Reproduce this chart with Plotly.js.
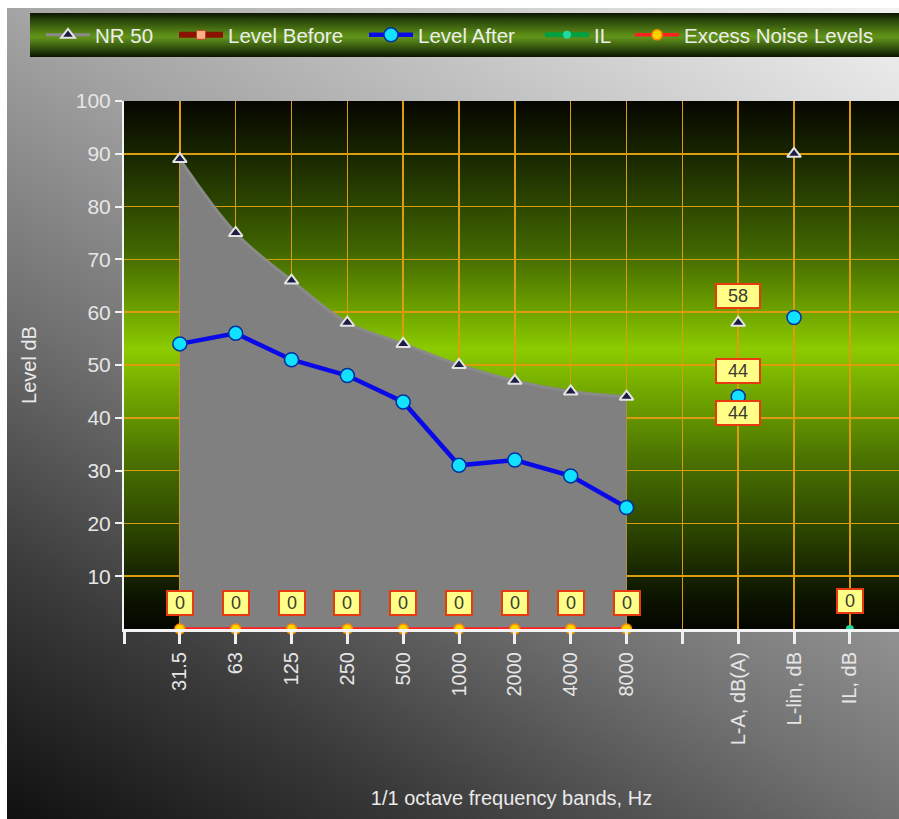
<!DOCTYPE html>
<html>
<head>
<meta charset="utf-8">
<script src="https://cdn.plot.ly/plotly-3.0.1.min.js"></script>
<style>
  html, body { margin:0; padding:0; background:#ffffff; overflow:hidden; }
  #wrap { position:relative; width:899px; height:819px; }
  #outer { position:absolute; left:7px; top:8px; width:892px; height:811px;
    background: linear-gradient(210deg, #f2f2f2 0%, #a4a4a4 39%, #717171 61%, #585858 70%, #3a3a3a 81%, #101010 100%); }
  #legbar { position:absolute; left:30px; top:13px; width:869px; height:44px;
    background: linear-gradient(to bottom, #0a1400 0%, #26400a 14%, #5a8a16 48%, #62941a 55%, #26400a 86%, #0a1400 100%); }
  #plotbg { position:absolute; left:124px; top:101px; width:775px; height:528px;
    background: linear-gradient(to bottom, #060600 0%, #1c2c00 12%, #3f6400 28%, #6fa400 40%, #8ccb00 47%, #6fa400 56%, #4a7200 68%, #2a4200 82%, #0c1400 94%, #040600 100%); }
  #chart { position:absolute; left:0; top:0; width:899px; height:819px; }
</style>
</head>
<body>
<div id="wrap">
  <div id="outer"></div>
  <div id="legbar"></div>
  <div id="plotbg"></div>
  <div id="chart"></div>
</div>
<script>
// ---- data ----
const bandLabels = ['31.5','63','125','250','500','1000','2000','4000','8000'];
const totalLabels = ['L-A, dB(A)','L-lin, dB','IL, dB'];
const nr50Bands = [89, 75, 66, 58, 54, 50, 47, 45, 44];
const nr50Totals = [58, 90];           // L-A, L-lin
const levelBeforeBands = [null];       // no visible points in picture
const levelAfterBands = [54, 56, 51, 48, 43, 31, 32, 29, 23];
const levelAfterTotals = [44, 59];     // L-A, L-lin
const levelAfterLALabels = [44, 44];
const ilValues = [0];
const excessBands = [0, 0, 0, 0, 0, 0, 0, 0, 0];

// ---- positions (category indices) ----
const bandX = bandLabels.map((_, i) => i);
const gapIndex = bandLabels.length;           // empty slot
const totalX = totalLabels.map((_, i) => gapIndex + 1 + i);
const tickVals = [-1].concat(bandX, [gapIndex], totalX);
const tickText = [''].concat(bandLabels, [''], totalLabels);

const FONT = 'Liberation Sans, Arial, sans-serif';
const pxToPaperX = px => (px - 124) / 775;

function leg(px) {
  return { x: pxToPaperX(px), y: (629 - 35) / 528, xanchor: 'left', yanchor: 'middle',
           orientation: 'h', bgcolor: 'rgba(0,0,0,0)', borderwidth: 0, itemwidth: 44,
           font: { family: FONT, size: 20.5, color: '#eeeeee' } };
}

const triMarker = { symbol: 'triangle-up', size: 12, color: '#1c1c44', line: { color: '#e4e4e4', width: 2 } };

const traces = [
  { // NR fill
    x: bandX, y: nr50Bands, type: 'scatter', mode: 'lines', fill: 'tozeroy',
    fillcolor: '#808080', line: { color: '#808080', width: 0, shape: 'spline', smoothing: 1 },
    showlegend: false, hoverinfo: 'skip'
  },
  { // NR 50
    x: bandX, y: nr50Bands, type: 'scatter', mode: 'lines+markers', name: 'NR 50',
    line: { color: '#8a8a8a', width: 3, shape: 'spline', smoothing: 1 },
    marker: triMarker, legend: 'legend'
  },
  {
    x: totalX.slice(0, 2), y: nr50Totals, type: 'scatter', mode: 'markers', showlegend: false,
    marker: triMarker
  },
  { // Level Before
    x: levelBeforeBands.map((_, i) => i), y: levelBeforeBands, type: 'scatter', mode: 'lines+markers', name: 'Level Before',
    line: { color: '#8a1200', width: 6 },
    marker: { symbol: 'square', size: 9, color: '#f8b088', line: { color: '#c04020', width: 1 } },
    showlegend: true, legend: 'legend2'
  },
  { // Level After
    x: bandX, y: levelAfterBands, type: 'scatter', mode: 'lines+markers', name: 'Level After',
    line: { color: '#0a0ae8', width: 4.5 },
    marker: { symbol: 'circle', size: 14, color: '#12e2ff', line: { color: '#0030a0', width: 1.5 } },
    legend: 'legend3'
  },
  {
    x: totalX.slice(0, 2), y: levelAfterTotals, type: 'scatter', mode: 'markers', showlegend: false,
    marker: { symbol: 'circle', size: 14, color: '#12e2ff', line: { color: '#0030a0', width: 1.5 } }
  },
  { // IL
    x: [totalX[2]], y: ilValues, type: 'scatter', mode: 'lines+markers', name: 'IL',
    line: { color: '#00a040', width: 5 },
    marker: { symbol: 'circle', size: 8, color: '#20d8a0' }, cliponaxis: false,
    legend: 'legend4'
  },
  { // Excess noise
    x: bandX, y: excessBands, type: 'scatter', mode: 'lines+markers', name: 'Excess Noise Levels',
    line: { color: '#ff2020', width: 3.5 },
    marker: { symbol: 'circle', size: 10, color: '#ffd400', line: { color: '#ff8a00', width: 1.5 } },
    cliponaxis: false,
    legend: 'legend5'
  }
];

function box(x, y, text, w, yshift) {
  return { x: x, y: y, xref: 'x', yref: 'y', text: String(text), showarrow: false,
           yshift: yshift, width: w, height: 20, bgcolor: '#ffff88', bordercolor: '#e83a10',
           borderwidth: 2, borderpad: 1, font: { family: FONT, size: 18, color: '#3a3a30' } };
}
const annotations = [];
excessBands.forEach((v, i) => annotations.push(box(bandX[i], v, v, 22, 26)));
annotations.push(box(totalX[0], nr50Totals[0], nr50Totals[0], 40, 27));
annotations.push(box(totalX[0], levelAfterTotals[0], levelAfterLALabels[0], 40, 26));
annotations.push(box(totalX[0], levelAfterTotals[0], levelAfterLALabels[1], 40, -16));
annotations.push(box(totalX[2], ilValues[0], ilValues[0], 22, 28));

const layout = {
  width: 899, height: 819,
  margin: { l: 124, r: 0, t: 101, b: 190, pad: 0 },
  paper_bgcolor: 'rgba(0,0,0,0)', plot_bgcolor: 'rgba(0,0,0,0)',
  font: { family: FONT, color: '#e6e6e6' },
  showlegend: true,
  legend: leg(97 - 56),
  legend2: leg(230 - 56),
  legend3: leg(420 - 56),
  legend4: leg(596 - 56),
  legend5: leg(686 - 56),
  xaxis: {
    range: [-1, 12.88], tickmode: 'array', tickvals: tickVals, ticktext: tickText,
    tickangle: -90, ticks: 'outside', ticklen: 12, tickwidth: 3, tickcolor: '#f0f0f0',
    showline: true, linecolor: '#f4f4f4', linewidth: 3,
    showgrid: true, gridcolor: '#dc9c10', gridwidth: 1.5, zeroline: false,
    tickfont: { family: FONT, size: 20, color: '#e6e6e6' },
    title: { text: '1/1 octave frequency bands, Hz', standoff: 47,
             font: { family: FONT, size: 20, color: '#eaeaea' } },
    fixedrange: true
  },
  yaxis: {
    range: [0, 100], tickmode: 'array', tickvals: [10,20,30,40,50,60,70,80,90,100],
    ticks: 'outside', ticklen: 7, tickwidth: 2, tickcolor: '#f0f0f0',
    showline: true, linecolor: '#f4f4f4', linewidth: 2,
    showgrid: true, gridcolor: '#dc9c10', gridwidth: 1.5, zeroline: false,
    tickfont: { family: FONT, size: 21, color: '#e6e6e6' },
    title: { text: 'Level dB', standoff: 34, font: { family: FONT, size: 20, color: '#eaeaea' } },
    fixedrange: true
  },
  annotations: annotations
};

Plotly.newPlot('chart', traces, layout, { displayModeBar: false, staticPlot: true });
</script>
</body>
</html>
